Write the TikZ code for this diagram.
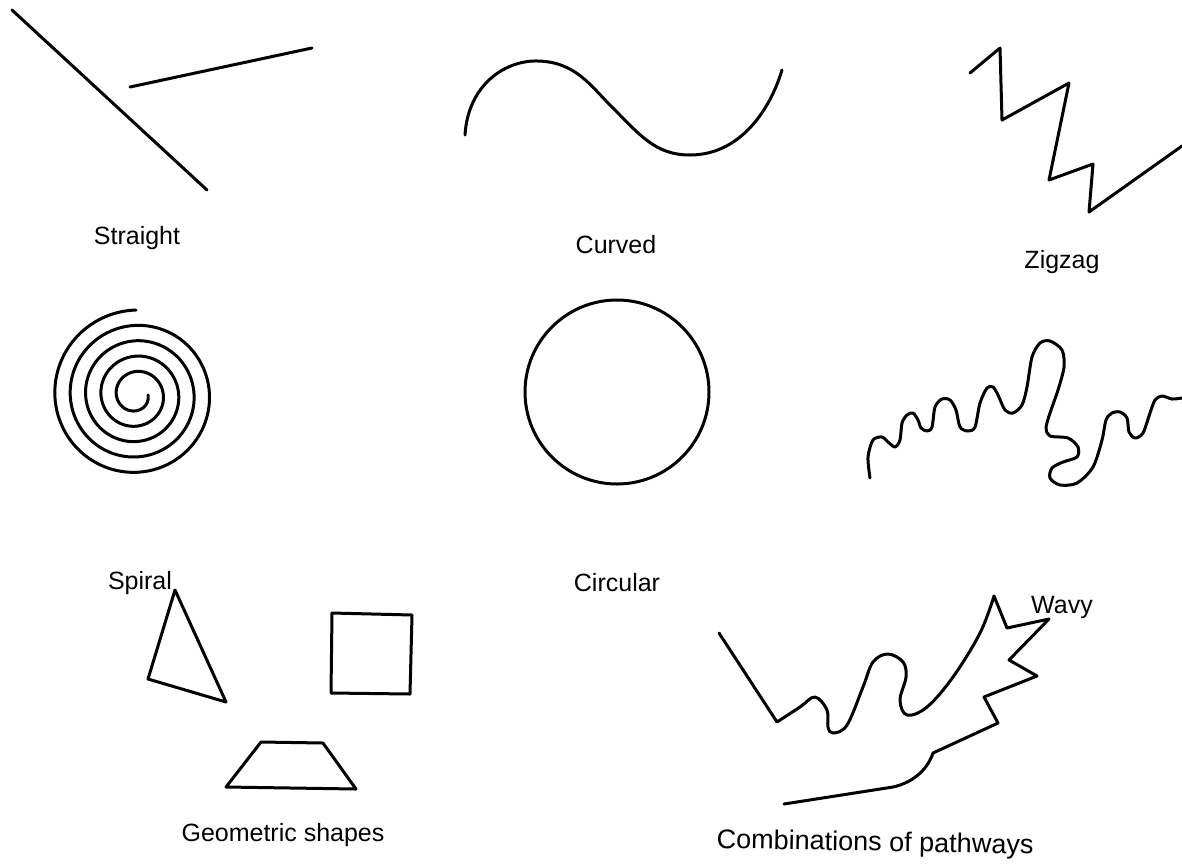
\documentclass[tikz,border=0pt]{standalone}
\usepackage{fontspec}
\setmainfont{Liberation Sans}
\begin{document}
\begin{tikzpicture}[x=1pt,y=-1pt,
  path/.style={line width=3pt,line join=round,line cap=round},
  lbl/.style={anchor=base,inner sep=0pt,font=\fontsize{25}{30}\selectfont}]
\useasboundingbox (0,0) rectangle (1182,863);
% Straight
\draw[path] (12,10) -- (207,190);
\draw[path] (130,87) -- (312,48);
\node[lbl] (tstraight) at (137,244) {Straight};
% Curved
\draw[path] (465,135) .. controls (468,85) and (505,60) .. (538,61)
  .. controls (575,62) and (590,85) .. (610,105)
  .. controls (640,135) and (655,155) .. (690,155)
  .. controls (740,155) and (770,110) .. (782,70);
\node[lbl] (tcurved) at (616,253) {Curved};
% Zigzag
\draw[path] (970,73) -- (1000,48) -- (1002,120) -- (1069,83) -- (1049,180)
  -- (1093,164) -- (1089,212) -- (1182,146);
\node[lbl] (tzigzag) at (1062,268) {Zigzag};
% Spiral
\draw[path] plot[domain=90:1800,samples=400,smooth,variable=\t]
  ({136+(85-0.0427*(\t-90))*cos(\t)},{395-(85-0.0427*(\t-90))*sin(\t)});
\node[lbl] (tspiral) at (140,589) {Spiral};
% Circular
\draw[path] (617,392) circle[radius=92];
\node[lbl] (tcircular) at (617,591) {Circular};
% Wavy
\draw[path] plot[smooth,tension=0.5] coordinates {
 (870,478) (868,457) (873,440) (882,437) (888,442) (895,447) (900,440)
 (902,423) (907,415) (913,413) (918,420) (921,428) (927,431) (932,427)
 (935,407) (942,399) (950,400) (956,410) (960,427) (968,431) (975,427)
 (980,403) (987,388) (993,387) (998,395) (1005,410) (1013,413) (1022,405)
 (1027,387) (1032,357) (1040,343) (1050,341) (1062,350) (1064,367)
 (1058,390) (1050,413) (1046,428) (1050,436) (1068,438) (1078,447)
 (1077,457) (1063,462) (1052,468) (1050,478) (1060,485) (1077,483)
 (1093,467) (1102,440) (1106,420) (1112,413) (1120,412) (1127,418)
 (1129,432) (1135,438) (1143,433) (1150,413) (1155,400) (1162,396)
 (1172,399) (1182,398)};
\node[lbl] (twavy) at (1062,613) {Wavy};
% Geometric shapes
\draw[path] (175,590) -- (148,679) -- (226,702) -- cycle;
\draw[path] (332,613) -- (412,615) -- (410,694) -- (331,693) -- cycle;
\draw[path] (261,742) -- (323,743) -- (356,789) -- (226,787) -- cycle;
\node[lbl] (tgeom) at (283,841) {Geometric shapes};
% Combinations
\draw[path] (719,633) -- (777,722)
  plot[smooth,tension=0.6] coordinates {(777,722) (800,707) (815,697) (827,710)
  (828,727) (833,733) (847,725) (863,687) (873,662) (888,654) (903,662)
  (906,677) (900,700) (907,715) (927,707) (953,677) (980,633) (994,596)}
  -- (1007,628) -- (1049,619) -- (1009,660) -- (1037,676) -- (984,697)
  -- (998,723) -- (933,753)
  .. controls (928,768) and (915,782) .. (893,787) -- (784,804);
\node[lbl,font=\fontsize{27}{32}\selectfont,rotate=-1] (tcomb) at (875,851) {Combinations of pathways};
\end{tikzpicture}
\end{document}
